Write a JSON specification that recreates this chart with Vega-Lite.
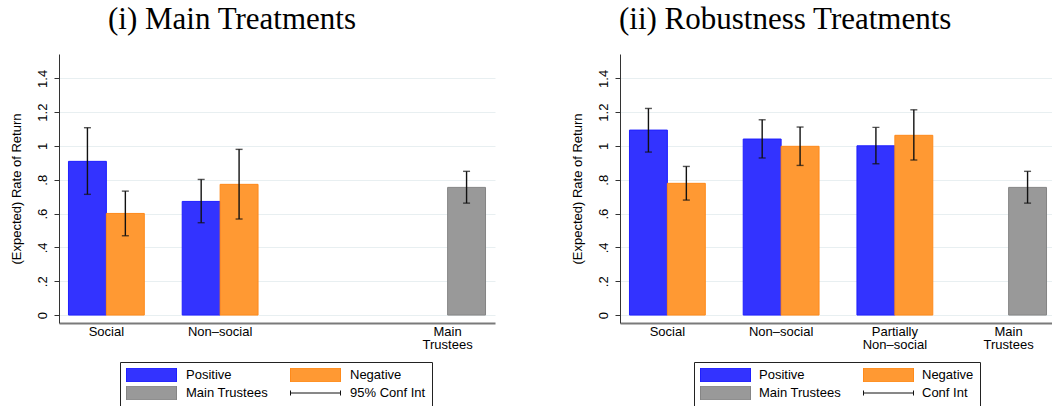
{
  "$schema": "https://vega.github.io/schema/vega-lite/v6.json",
  "padding": {"left": 9, "top": 4, "right": 0, "bottom": 0},
  "background": "white",
  "config": {
    "font": "Liberation Sans",
    "view": {"stroke": null},
    "axis": {"labelFont": "Liberation Sans", "labelFontSize": 13, "labelColor": "black", "titleFont": "Liberation Sans", "titleFontSize": 13, "titleFontWeight": "normal", "titleColor": "black", "labelOverlap": false},
    "axisX": {"domainColor": "#7a7a7a", "domainWidth": 2, "ticks": false, "labelAngle": 0, "labelPadding": 2, "labelLineHeight": 13, "grid": false},
    "axisY": {"domainColor": "#333333", "domainWidth": 1, "tickColor": "#333333", "tickSize": 5, "tickWidth": 1, "labelAngle": -90, "labelPadding": 5, "titlePadding": 13, "grid": true, "gridColor": "#e8eff1", "gridWidth": 1, "values": [0, 0.2, 0.4, 0.6, 0.8, 1, 1.2, 1.4], "labelExpr": "datum.value == 0 ? '0' : datum.value < 1 ? replace(format(datum.value, '.1f'), '0.', '.') : format(datum.value, '.1~f')"},
    "legend": {"labelFont": "Liberation Sans", "labelFontSize": 13, "labelColor": "black"}
  },
  "datasets": {
    "main": [
      {"group": "Social", "series": "Positive", "value": 0.909, "lo": 0.714, "hi": 1.108},
      {"group": "Social", "series": "Negative", "value": 0.601, "lo": 0.469, "hi": 0.733},
      {"group": "Non-social", "series": "Positive", "value": 0.672, "lo": 0.546, "hi": 0.802},
      {"group": "Non-social", "series": "Negative", "value": 0.773, "lo": 0.568, "hi": 0.980},
      {"group": "Main Trustees", "series": "Main Trustees", "value": 0.755, "lo": 0.662, "hi": 0.850}
    ],
    "robust": [
      {"group": "Social", "series": "Positive", "value": 1.094, "lo": 0.964, "hi": 1.222},
      {"group": "Social", "series": "Negative", "value": 0.779, "lo": 0.680, "hi": 0.879},
      {"group": "Non-social", "series": "Positive", "value": 1.041, "lo": 0.929, "hi": 1.155},
      {"group": "Non-social", "series": "Negative", "value": 0.998, "lo": 0.885, "hi": 1.112},
      {"group": "Partially Non-social", "series": "Positive", "value": 1.001, "lo": 0.895, "hi": 1.110},
      {"group": "Partially Non-social", "series": "Negative", "value": 1.063, "lo": 0.917, "hi": 1.214},
      {"group": "Main Trustees", "series": "Main Trustees", "value": 0.755, "lo": 0.662, "hi": 0.850}
    ]
  },
  "spacing": 75,
  "resolve": {"scale": {"color": "independent", "stroke": "independent", "x": "independent", "xOffset": "independent", "y": "independent"}, "legend": {"color": "independent"}},
  "hconcat": [
    {
      "width": 436, "height": 269,
      "title": {"text": "(i) Main Treatments", "font": "Liberation Serif", "fontSize": 31, "fontWeight": "normal", "color": "black", "anchor": "start", "frame": "group", "dx": 49, "offset": 18},
      "data": {"name": "main"},
      "encoding": {
        "x": {"field": "group", "type": "nominal", "title": null, "sort": null,
              "scale": {"type": "band", "domain": ["Social", "Non-social", " ", "Main Trustees"], "paddingInner": 0.3333, "paddingOuter": 0.0833},
              "axis": {"labelExpr": "datum.value == 'Main Trustees' ? ['Main', 'Trustees'] : datum.value == 'Partially Non-social' ? ['Partially', 'Non–social'] : datum.value == 'Non-social' ? 'Non–social' : datum.value",
                       "encode": {"labels": {"update": {"dx": {"signal": "datum.value == 'Main Trustees' ? 19 : 0"}}}}}}
      },
      "layer": [
        {
          "transform": [{"filter": "datum.series != 'Main Trustees'"}],
          "encoding": {"xOffset": {"field": "series", "type": "nominal", "sort": null, "scale": {"domain": ["Positive", "Negative"], "paddingInner": 0, "paddingOuter": 0}}},
          "layer": [
            {"mark": {"type": "bar", "strokeWidth": 1},
             "encoding": {
               "y": {"field": "value", "type": "quantitative", "stack": null, "title": "(Expected) Rate of Return", "scale": {"domain": [-0.047, 1.544], "nice": false, "zero": false}},
               "color": {"field": "series", "type": "nominal", "scale": {"domain": ["Positive", "Negative", "Main Trustees", "95% Conf Int"], "range": ["#3333ff", "#ff9933", "#999999", "#000000"]},
                 "legend": {"orient": "none", "legendX": 61, "legendY": 308, "direction": "horizontal", "columns": 2, "title": null, "symbolSize": 2500, "clipHeight": 14, "labelOffset": 9, "columnPadding": 22, "rowPadding": 4, "padding": 6, "strokeColor": "#222222", "fillColor": "white",
                   "encode": {"symbols": {"update": {
                     "shape": {"signal": "datum.value == '95% Conf Int' ? 'M-1,0H1M-1,-0.1V0.1M1,-0.1V0.1' : 'M-1,-0.28H1V0.28H-1Z'"},
                     "fill": {"signal": "datum.value == 'Positive' ? '#3333ff' : datum.value == 'Negative' ? '#ff9933' : datum.value == 'Main Trustees' ? '#999999' : 'transparent'"},
                     "stroke": {"signal": "datum.value == 'Positive' ? '#1f1fff' : datum.value == 'Negative' ? '#ff8a1a' : datum.value == 'Main Trustees' ? '#858585' : '#111111'"},
                     "strokeWidth": {"value": 1},
                     "opacity": {"value": 1}}}}}},
               "stroke": {"field": "series", "type": "nominal", "legend": null, "scale": {"domain": ["Positive", "Negative", "Main Trustees"], "range": ["#1f1fff", "#ff8a1a", "#858585"]}}
             }},
            {"mark": {"type": "rule", "strokeWidth": 1.4, "color": "#111111"},
             "encoding": {"y": {"field": "lo", "type": "quantitative", "title": "(Expected) Rate of Return", "scale": {"domain": [-0.047, 1.544], "nice": false, "zero": false}}, "y2": {"field": "hi"}}},
            {"mark": {"type": "tick", "thickness": 1.4, "size": 7, "color": "#111111"},
             "encoding": {"y": {"field": "lo", "type": "quantitative", "title": "(Expected) Rate of Return", "scale": {"domain": [-0.047, 1.544], "nice": false, "zero": false}}}},
            {"mark": {"type": "tick", "thickness": 1.4, "size": 7, "color": "#111111"},
             "encoding": {"y": {"field": "hi", "type": "quantitative", "title": "(Expected) Rate of Return", "scale": {"domain": [-0.047, 1.544], "nice": false, "zero": false}}}}
          ]
        },
        {
          "transform": [{"filter": "datum.series == 'Main Trustees'"}],
          "encoding": {"xOffset": {"datum": "Negative", "type": "nominal"}},
          "layer": [
            {"mark": {"type": "bar", "strokeWidth": 1},
             "encoding": {
               "y": {"field": "value", "type": "quantitative", "stack": null, "title": "(Expected) Rate of Return", "scale": {"domain": [-0.047, 1.544], "nice": false, "zero": false}},
               "color": {"field": "series", "type": "nominal"},
               "stroke": {"field": "series", "type": "nominal", "legend": null}
             }},
            {"mark": {"type": "rule", "strokeWidth": 1.4, "color": "#111111"},
             "encoding": {"y": {"field": "lo", "type": "quantitative", "title": "(Expected) Rate of Return", "scale": {"domain": [-0.047, 1.544], "nice": false, "zero": false}}, "y2": {"field": "hi"}}},
            {"mark": {"type": "tick", "thickness": 1.4, "size": 7, "color": "#111111"},
             "encoding": {"y": {"field": "lo", "type": "quantitative", "title": "(Expected) Rate of Return", "scale": {"domain": [-0.047, 1.544], "nice": false, "zero": false}}}},
            {"mark": {"type": "tick", "thickness": 1.4, "size": 7, "color": "#111111"},
             "encoding": {"y": {"field": "hi", "type": "quantitative", "title": "(Expected) Rate of Return", "scale": {"domain": [-0.047, 1.544], "nice": false, "zero": false}}}}
          ]
        }
      ]
    },
    {
      "width": 436, "height": 269,
      "title": {"text": "(ii) Robustness Treatments", "font": "Liberation Serif", "fontSize": 31, "fontWeight": "normal", "color": "black", "anchor": "start", "frame": "group", "dx": -1, "offset": 18},
      "data": {"name": "robust"},
      "encoding": {
        "x": {"field": "group", "type": "nominal", "title": null, "sort": null,
              "scale": {"type": "band", "domain": ["Social", "Non-social", "Partially Non-social", "Main Trustees"], "paddingInner": 0.3333, "paddingOuter": 0.0833},
              "axis": {"labelExpr": "datum.value == 'Main Trustees' ? ['Main', 'Trustees'] : datum.value == 'Partially Non-social' ? ['Partially', 'Non–social'] : datum.value == 'Non-social' ? 'Non–social' : datum.value",
                       "encode": {"labels": {"update": {"dx": {"signal": "datum.value == 'Main Trustees' ? 19 : 0"}}}}}}
      },
      "layer": [
        {
          "transform": [{"filter": "datum.series != 'Main Trustees'"}],
          "encoding": {"xOffset": {"field": "series", "type": "nominal", "sort": null, "scale": {"domain": ["Positive", "Negative"], "paddingInner": 0, "paddingOuter": 0}}},
          "layer": [
            {"mark": {"type": "bar", "strokeWidth": 1},
             "encoding": {
               "y": {"field": "value", "type": "quantitative", "stack": null, "title": "(Expected) Rate of Return", "scale": {"domain": [-0.047, 1.544], "nice": false, "zero": false}},
               "color": {"field": "series", "type": "nominal", "scale": {"domain": ["Positive", "Negative", "Main Trustees", "Conf Int"], "range": ["#3333ff", "#ff9933", "#999999", "#000000"]},
                 "legend": {"orient": "none", "legendX": 74, "legendY": 308, "direction": "horizontal", "columns": 2, "title": null, "symbolSize": 2500, "clipHeight": 14, "labelOffset": 8, "columnPadding": 22, "rowPadding": 4, "padding": 6, "strokeColor": "#222222", "fillColor": "white",
                   "encode": {"symbols": {"update": {
                     "shape": {"signal": "datum.value == 'Conf Int' ? 'M-1,0H1M-1,-0.1V0.1M1,-0.1V0.1' : 'M-1,-0.28H1V0.28H-1Z'"},
                     "fill": {"signal": "datum.value == 'Positive' ? '#3333ff' : datum.value == 'Negative' ? '#ff9933' : datum.value == 'Main Trustees' ? '#999999' : 'transparent'"},
                     "stroke": {"signal": "datum.value == 'Positive' ? '#1f1fff' : datum.value == 'Negative' ? '#ff8a1a' : datum.value == 'Main Trustees' ? '#858585' : '#111111'"},
                     "strokeWidth": {"value": 1},
                     "opacity": {"value": 1}}}}}},
               "stroke": {"field": "series", "type": "nominal", "legend": null, "scale": {"domain": ["Positive", "Negative", "Main Trustees"], "range": ["#1f1fff", "#ff8a1a", "#858585"]}}
             }},
            {"mark": {"type": "rule", "strokeWidth": 1.4, "color": "#111111"},
             "encoding": {"y": {"field": "lo", "type": "quantitative", "title": "(Expected) Rate of Return", "scale": {"domain": [-0.047, 1.544], "nice": false, "zero": false}}, "y2": {"field": "hi"}}},
            {"mark": {"type": "tick", "thickness": 1.4, "size": 7, "color": "#111111"},
             "encoding": {"y": {"field": "lo", "type": "quantitative", "title": "(Expected) Rate of Return", "scale": {"domain": [-0.047, 1.544], "nice": false, "zero": false}}}},
            {"mark": {"type": "tick", "thickness": 1.4, "size": 7, "color": "#111111"},
             "encoding": {"y": {"field": "hi", "type": "quantitative", "title": "(Expected) Rate of Return", "scale": {"domain": [-0.047, 1.544], "nice": false, "zero": false}}}}
          ]
        },
        {
          "transform": [{"filter": "datum.series == 'Main Trustees'"}],
          "encoding": {"xOffset": {"datum": "Negative", "type": "nominal"}},
          "layer": [
            {"mark": {"type": "bar", "strokeWidth": 1},
             "encoding": {
               "y": {"field": "value", "type": "quantitative", "stack": null, "title": "(Expected) Rate of Return", "scale": {"domain": [-0.047, 1.544], "nice": false, "zero": false}},
               "color": {"field": "series", "type": "nominal"},
               "stroke": {"field": "series", "type": "nominal", "legend": null}
             }},
            {"mark": {"type": "rule", "strokeWidth": 1.4, "color": "#111111"},
             "encoding": {"y": {"field": "lo", "type": "quantitative", "title": "(Expected) Rate of Return", "scale": {"domain": [-0.047, 1.544], "nice": false, "zero": false}}, "y2": {"field": "hi"}}},
            {"mark": {"type": "tick", "thickness": 1.4, "size": 7, "color": "#111111"},
             "encoding": {"y": {"field": "lo", "type": "quantitative", "title": "(Expected) Rate of Return", "scale": {"domain": [-0.047, 1.544], "nice": false, "zero": false}}}},
            {"mark": {"type": "tick", "thickness": 1.4, "size": 7, "color": "#111111"},
             "encoding": {"y": {"field": "hi", "type": "quantitative", "title": "(Expected) Rate of Return", "scale": {"domain": [-0.047, 1.544], "nice": false, "zero": false}}}}
          ]
        }
      ]
    }
  ]
}
